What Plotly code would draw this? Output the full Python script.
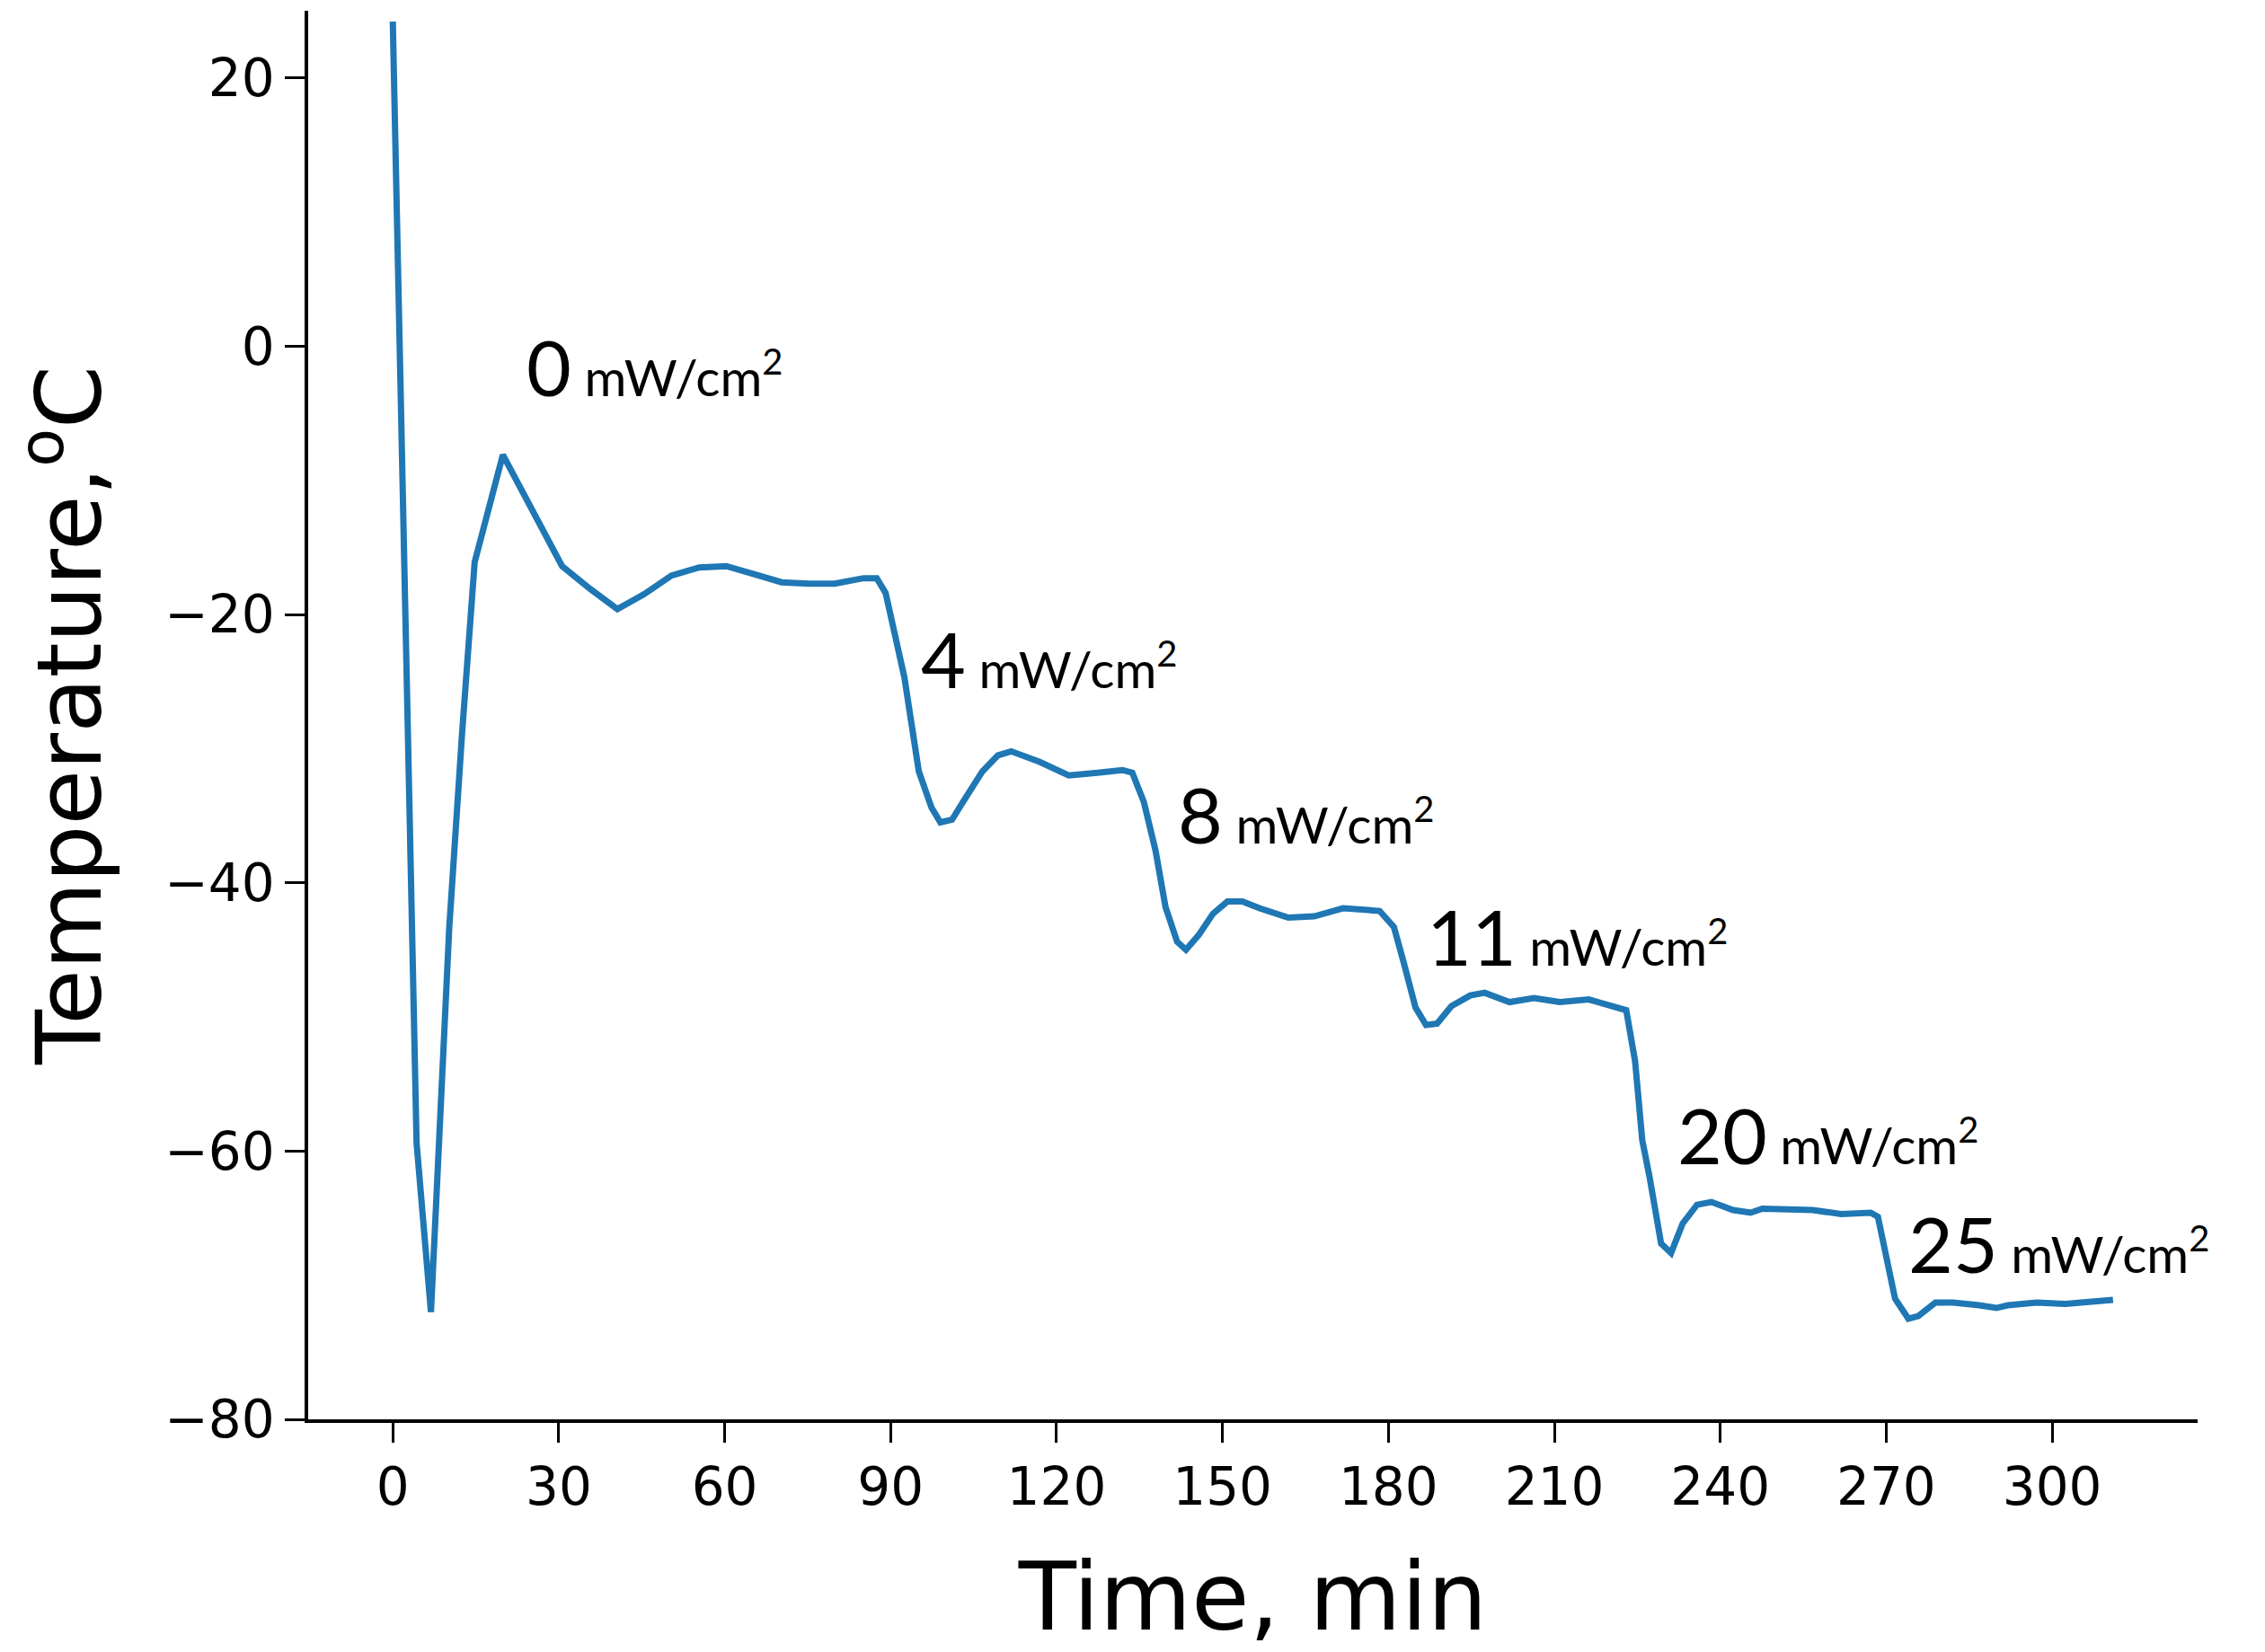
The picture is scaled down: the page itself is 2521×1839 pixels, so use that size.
import plotly.graph_objects as go

time_min = [0, 4.3, 6.9, 10.2, 12.5, 14.8, 19.9, 30.6, 35.7, 40.6, 45.4, 50.4, 55.4, 60.3, 65.3, 70.3,
            75.2, 79.9, 85.1, 87.5, 89.1, 92.5, 95.1, 97.4, 99.0, 101.1, 103.2, 106.6, 109.4, 111.8,
            117.0, 122.2, 127.4, 131.9, 133.7, 135.8, 137.9, 139.7, 141.8, 143.4, 145.7, 148.3, 150.9,
            153.6, 156.7, 161.9, 166.6, 171.8, 178.4, 181.0, 182.8, 184.9, 186.8, 188.8, 191.4, 194.8,
            197.4, 201.9, 206.3, 211.0, 216.2, 220.2, 223.0, 224.6, 225.9, 227.2, 229.3, 231.1, 233.2,
            235.8, 238.4, 242.3, 245.5, 247.6, 252.8, 256.7, 261.9, 267.2, 268.5, 271.6, 274.0, 275.8,
            278.9, 282.1, 286.8, 289.9, 292.0, 297.2, 302.4, 311.0]
temperature_c = [24.2, -59.4, -72.0, -43.4, -29.0, -16.1, -8.1, -16.4, -18.1, -19.6, -18.5, -17.1, -16.5,
                 -16.4, -17.0, -17.6, -17.7, -17.7, -17.3, -17.3, -18.4, -24.7, -31.7, -34.4, -35.5, -35.3,
                 -33.9, -31.7, -30.5, -30.2, -31.0, -32.0, -31.8, -31.6, -31.8, -34.0, -37.6, -41.8, -44.4,
                 -45.0, -43.9, -42.3, -41.4, -41.4, -41.9, -42.6, -42.5, -41.9, -42.1, -43.3, -46.0, -49.3,
                 -50.6, -50.5, -49.2, -48.4, -48.2, -48.9, -48.6, -48.9, -48.7, -49.2, -49.5, -53.3, -59.2,
                 -61.9, -66.9, -67.6, -65.4, -64.0, -63.8, -64.4, -64.6, -64.3, -64.4, -64.4, -64.7, -64.6,
                 -64.9, -71.0, -72.5, -72.3, -71.3, -71.3, -71.5, -71.7, -71.5, -71.3, -71.4, -71.1]

label_power = ["0", "4", "8", "11", "20", "25"]
label_x = [23.8, 95.1, 141.6, 186.6, 231.9, 273.7]
label_y = [-3.7, -25.5, -37.1, -46.2, -61.0, -69.1]

x_ticks = [0, 30, 60, 90, 120, 150, 180, 210, 240, 270, 300]
y_ticks = [-80, -60, -40, -20, 0, 20]

fig = go.Figure()
fig.add_trace(go.Scatter(x=time_min, y=temperature_c, mode="lines",
                         line=dict(color="#1f77b4", width=7), showlegend=False))

for p, x, y in zip(label_power, label_x, label_y):
    fig.add_annotation(x=x, y=y, xref="x", yref="y", xanchor="left", yanchor="bottom",
                       text=f'<span style="font-size:86px">{p}</span> mW/cm<sup>2</sup>',
                       showarrow=False, font=dict(family="Lato", size=57, color="black"),
                       yshift=-20)

fig.update_layout(
    width=2521, height=1839,
    margin=dict(l=343, r=75, t=12, b=259),
    plot_bgcolor="white", paper_bgcolor="white",
    font=dict(family="DejaVu Sans", color="black"),
)
fig.update_xaxes(range=[-15.3, 326.3], tickvals=x_ticks, ticks="outside", ticklen=22, tickwidth=3,
                 tickcolor="black", showline=True, linecolor="black", linewidth=3.5, showgrid=False,
                 zeroline=False, tickfont=dict(size=58),
                 title=dict(text="Time, min", font=dict(size=105), standoff=57))
fig.update_yaxes(range=[-80, 25], tickvals=y_ticks, ticks="outside", ticklen=22, tickwidth=3,
                 tickcolor="black", showline=True, linecolor="black", linewidth=3.5, showgrid=False,
                 zeroline=False, tickfont=dict(size=58),
                 title=dict(text="Temperature,<sup>o</sup>C", font=dict(size=100), standoff=38))

fig.write_html("out.html")
